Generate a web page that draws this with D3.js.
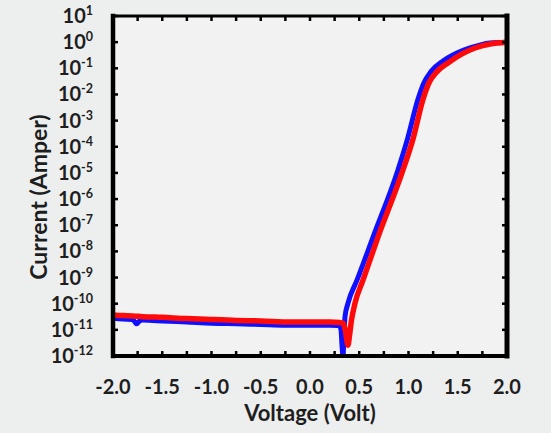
<!DOCTYPE html>
<html>
<head>
<meta charset="utf-8">
<script src="https://cdn.jsdelivr.net/npm/d3@7"></script>
<style>
  body { margin: 0; background: #edeeee; }
  svg { display: block; }
  text { font-family: Lato, "Open Sans", sans-serif; font-weight: 700; fill: #1e1e1e; }
</style>
</head>
<body>
<div id="chart"></div>
<script>
// blue sweep (voltage in V, current in A)
var blueVolt = [-2.0, -1.9, -1.8, -1.76, -1.73, -1.7, -1.6, -1.5, -1.25, -1.0, -0.75, -0.5, -0.25, 0.0, 0.2, 0.28, 0.30, 0.315, 0.325, 0.335, 0.345, 0.355, 0.386, 0.477, 0.64, 0.893, 0.99, 1.096, 1.157, 1.228, 1.35, 1.492, 1.624, 1.827, 2.0];
var blueCurr = [2.8e-11, 2.6e-11, 2.5e-11, 1.7e-11, 2.2e-11, 2.4e-11, 2.3e-11, 2.2e-11, 2.0e-11, 1.8e-11, 1.7e-11, 1.6e-11, 1.5e-11, 1.5e-11, 1.5e-11, 1.45e-11, 1.4e-11, 1.0e-11, 2.5e-12, 1e-12, 6.3e-12, 3.1e-11, 1.05e-10, 7.9e-10, 3.5e-8, 1.3e-5, 2.0e-4, 6.5e-3, 2.8e-2, 0.075, 0.19, 0.385, 0.60, 0.93, 1.0];

// red sweep
var redVolt = [-2.0, -1.9, -1.8, -1.7, -1.5, -1.25, -1.12, -0.75, -0.5, -0.2, 0.0, 0.2, 0.3, 0.335, 0.355, 0.37, 0.386, 0.40, 0.42, 0.457, 0.538, 0.69, 0.944, 1.046, 1.147, 1.208, 1.289, 1.411, 1.543, 1.675, 1.827, 2.0];
var redCurr = [3.7e-11, 3.5e-11, 3.4e-11, 3.2e-11, 3.0e-11, 2.7e-11, 2.6e-11, 2.3e-11, 2.2e-11, 2.0e-11, 2.0e-11, 2.0e-11, 1.9e-11, 1.8e-11, 1.1e-11, 5e-12, 2.6e-12, 5.6e-12, 2.2e-11, 1.05e-10, 7.9e-10, 3.5e-8, 1.3e-5, 2.0e-4, 6.5e-3, 2.8e-2, 0.075, 0.17, 0.355, 0.60, 0.85, 1.0];

var xTickVals = [-2.0, -1.5, -1.0, -0.5, 0.0, 0.5, 1.0, 1.5, 2.0];
var xMinorVals = [-2.0, -1.75, -1.5, -1.25, -1.0, -0.75, -0.5, -0.25, 0.0, 0.25, 0.5, 0.75, 1.0, 1.25, 1.5, 1.75, 2.0];
var yExponents = [1, 0, -1, -2, -3, -4, -5, -6, -7, -8, -9, -10, -11, -12];

var W = 551, H = 433;
var margin = {top: 16, right: 44, bottom: 77, left: 113};
var width = W - margin.left - margin.right,
    height = H - margin.top - margin.bottom;

var svg = d3.select("#chart").append("svg")
  .attr("width", W)
  .attr("height", H);

var g = svg.append("g")
  .attr("transform", "translate(" + margin.left + "," + margin.top + ")");

var x = d3.scaleLinear().domain([-2, 2]).range([0, width]);
var y = d3.scaleLog().domain([1e-12, 1e1]).range([height, 0]);

// plot background
g.append("rect")
  .attr("width", width)
  .attr("height", height)
  .attr("fill", "#f2f2f2");

g.append("clipPath").attr("id", "clip")
  .append("rect").attr("width", width).attr("height", height);

var line = d3.line()
  .x(function(d) { return x(d[0]); })
  .y(function(d) { return y(d[1]); })
  .curve(d3.curveMonotoneX);

var blueData = d3.zip(blueVolt, blueCurr);
var redData = d3.zip(redVolt, redCurr);

var plot = g.append("g").attr("clip-path", "url(#clip)");
plot.append("path")
  .datum(blueData)
  .attr("d", line)
  .attr("fill", "none")
  .attr("stroke", "#1010ff")
  .attr("stroke-width", 5)
  .attr("stroke-linejoin", "round");
plot.append("path")
  .datum(redData)
  .attr("d", line)
  .attr("fill", "none")
  .attr("stroke", "#ff0a0a")
  .attr("stroke-width", 5.5)
  .attr("stroke-linejoin", "round");

// ticks, all pointing inward
var tickLen = 5;
var ticks = g.append("g").attr("stroke", "#000").attr("stroke-width", 2.5);
xMinorVals.forEach(function(v) {
  ticks.append("line").attr("x1", x(v)).attr("x2", x(v)).attr("y1", height).attr("y2", height - tickLen);
  ticks.append("line").attr("x1", x(v)).attr("x2", x(v)).attr("y1", 0).attr("y2", tickLen);
});
yExponents.forEach(function(e) {
  var yy = y(Math.pow(10, e));
  ticks.append("line").attr("x1", 0).attr("x2", tickLen).attr("y1", yy).attr("y2", yy);
  ticks.append("line").attr("x1", width).attr("x2", width - tickLen).attr("y1", yy).attr("y2", yy);
});

// frame
var frame = g.append("g").attr("stroke", "#000").attr("stroke-linecap", "square");
frame.append("line").attr("x1", 0).attr("x2", width).attr("y1", 0).attr("y2", 0).attr("stroke-width", 3);
frame.append("line").attr("x1", 0).attr("x2", width).attr("y1", height).attr("y2", height).attr("stroke-width", 4);
frame.append("line").attr("x1", 0).attr("x2", 0).attr("y1", 0).attr("y2", height).attr("stroke-width", 4.5);
frame.append("line").attr("x1", width).attr("x2", width).attr("y1", 0).attr("y2", height).attr("stroke-width", 5);

// x tick labels
g.selectAll(".xlab")
  .data(xTickVals)
  .enter().append("text")
  .attr("class", "xlab")
  .attr("x", function(d) { return x(d); })
  .attr("y", height + 38)
  .attr("text-anchor", "middle")
  .style("font-size", "20px")
  .text(function(d) { return d3.format(".1f")(d).replace("\u2212", "-"); });

// y tick labels with superscript exponents
var ylab = g.selectAll(".ylab")
  .data(yExponents)
  .enter().append("text")
  .attr("class", "ylab")
  .attr("x", -20)
  .attr("y", function(e) { return y(Math.pow(10, e)) + 7; })
  .attr("text-anchor", "end")
  .style("font-size", "20px");
ylab.append("tspan").text("10");
ylab.append("tspan")
  .attr("dy", -8)
  .style("font-size", "12.5px")
  .text(function(e) { return e < 0 ? "-" + Math.abs(e) : String(e); });

// axis titles
g.append("text")
  .attr("x", width / 2)
  .attr("y", height + 65)
  .attr("text-anchor", "middle")
  .style("font-size", "22px")
  .text("Voltage (Volt)");

g.append("text")
  .attr("transform", "translate(" + (-66) + "," + (height / 2 + 11) + ") rotate(-90)")
  .attr("text-anchor", "middle")
  .style("font-size", "23px")
  .text("Current (Amper)");
</script>
</body>
</html>
